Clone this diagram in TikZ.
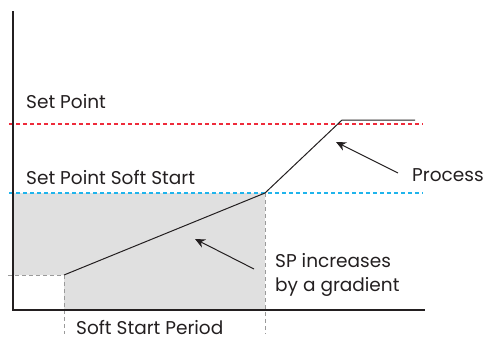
\documentclass[tikz,border=0pt]{standalone}
\usepackage{fontspec}
\setmainfont{Poppins}
\usetikzlibrary{arrows.meta}
\definecolor{ink}{HTML}{231F20}
\definecolor{spred}{HTML}{EE2B3B}
\definecolor{sscyan}{HTML}{1FB4EC}
\definecolor{fillgray}{HTML}{E0E0E0}
\definecolor{guidegray}{HTML}{9A9A9A}
\tikzset{
  lbl/.style={inner sep=0pt, text=ink, font=\fontsize{18.5}{24}\selectfont},
  guide/.style={draw=guidegray, dash pattern=on 4pt off 3pt, line width=0.8pt},
  spline/.style={dash pattern=on 4pt off 3pt, line width=1.1pt},
  curve/.style={draw=ink, line width=1pt},
  pointer/.style={draw=ink, line width=1pt, -{Stealth[length=10pt,width=9pt]}}
}
\begin{document}
\begin{tikzpicture}[x=1pt,y=-1pt]
\useasboundingbox (0,0) rectangle (497,340);
% grey region
\fill[fillgray] (13,193) -- (265,193) -- (265,310) -- (64,310) -- (64,275) -- (13,275) -- cycle;
% guides
\coordinate (gl) at (8,275); \coordinate (g0) at (64,275); \coordinate (g0b) at (64,334);
\coordinate (g1) at (265,193); \coordinate (g1b) at (265,334);
\draw[guide] (gl) -- (g0) -- (g0b);
\draw[guide] (g1) -- (g1b);
% set point lines
\coordinate (rl) at (9,124); \coordinate (rr) at (423,124);
\coordinate (bl) at (9,193); \coordinate (br) at (423,193);
\draw[spline, draw=spred] (rl) -- (rr);
\draw[spline, draw=sscyan] (bl) -- (br);
% axes
\coordinate (ytop) at (13,11); \coordinate (orig) at (13,310); \coordinate (xend) at (425,310);
\draw[ink, line width=1.2pt] (ytop) -- (orig) -- (xend);
% process curve
\coordinate (p0) at (64,275); \coordinate (p1) at (265,193);
\coordinate (p2) at (342,120); \coordinate (p3) at (415,120);
\draw[curve] (p0) -- (p1) -- (p2) -- (p3);
% labels
\node[lbl, anchor=west] (sp) at (26,102) {Set Point};
\node[lbl, anchor=west] (sps) at (26,178) {Set Point Soft Start};
\node[lbl, anchor=west] (proc) at (412,175) {Process};
\node[lbl, anchor=base west, align=left] (grad) at (275,291) {SP increases\\by a gradient};
\node[lbl, anchor=west] (ssp) at (76,328) {Soft Start Period};
% pointers
\coordinate (a1t) at (254,269); \coordinate (a1h) at (195,239);
\coordinate (a2t) at (398,173); \coordinate (a2h) at (336,142);
\draw[pointer] (a1t) -- (a1h);
\draw[pointer] (a2t) -- (a2h);
\end{tikzpicture}
\end{document}
